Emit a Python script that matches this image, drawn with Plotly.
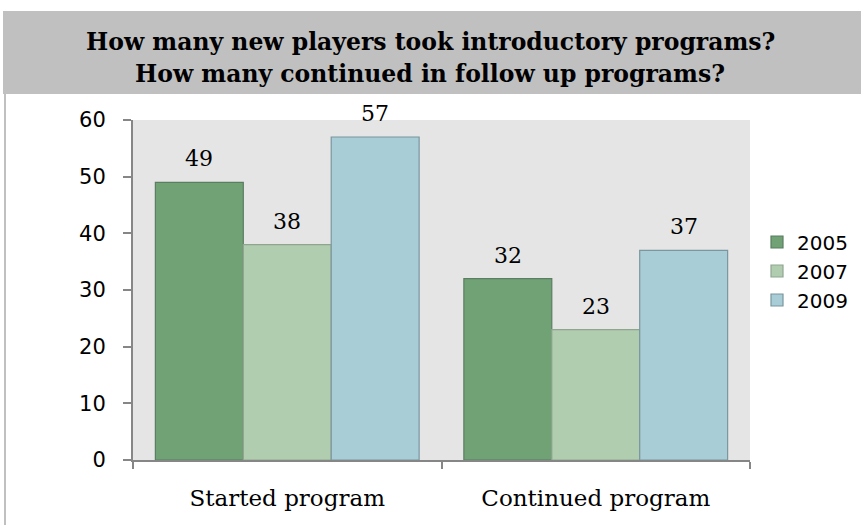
import plotly.graph_objects as go

# Chart data
categories = ["Started program", "Continued program"]
years = ["2005", "2007", "2009"]
values_2005 = [49, 32]
values_2007 = [38, 23]
values_2009 = [57, 37]
series_values = [values_2005, values_2007, values_2009]

title_lines = [
    "How many new players took introductory programs?",
    "How many continued in follow up programs?",
]

fill_colors = ["#70a276", "#b0cdb0", "#a8cdd6"]
edge_colors = ["#5b7d60", "#8fa58f", "#7a969e"]

W, H = 861, 525
M_L, M_R, M_T, M_B = 133, 111, 120, 65
plot_w = W - M_L - M_R
plot_h = H - M_T - M_B

def px_x(px):
    return (px - M_L) / plot_w

def px_y(py):
    return (H - M_B - py) / plot_h

BARGAP = 0.145

fig = go.Figure()
for name, vals, fc, ec in zip(years, series_values, fill_colors, edge_colors):
    fig.add_trace(go.Bar(
        name=name, x=categories, y=vals,
        marker=dict(color=fc, line=dict(color=ec, width=1.2)),
    ))

# value labels above each bar
bar_w = (1 - BARGAP) / len(years)
annotations = []
for k, vals in enumerate(series_values):
    for i, v in enumerate(vals):
        annotations.append(dict(
            x=i + (k - (len(years) - 1) / 2) * bar_w, y=v, xref="x", yref="y",
            text=str(v), showarrow=False, yanchor="bottom", yshift=9,
            font=dict(family="DejaVu Serif", size=22, color="#000000"),
        ))

# two-line title in the grey band
for line, py in zip(title_lines, [42, 74]):
    annotations.append(dict(
        x=px_x(430), y=px_y(py), xref="paper", yref="paper",
        text="<b>" + line + "</b>", showarrow=False,
        xanchor="center", yanchor="middle",
        font=dict(family="DejaVu Serif", size=23.5, color="#000000"),
    ))

shapes = [
    dict(type="rect", xref="paper", yref="paper",
         x0=px_x(3), x1=px_x(W + 2), y0=px_y(94), y1=px_y(11),
         fillcolor="#c0c0c0", line=dict(width=0), layer="below"),
    dict(type="line", xref="paper", yref="paper",
         x0=px_x(5), x1=px_x(5), y0=px_y(94), y1=px_y(H + 2),
         line=dict(color="#c0c0c0", width=2)),
]

fig.update_layout(
    width=W, height=H,
    margin=dict(l=M_L, r=M_R, t=M_T, b=M_B, autoexpand=False),
    barmode="group", bargap=BARGAP, bargroupgap=0,
    paper_bgcolor="#ffffff", plot_bgcolor="#e5e5e5",
    font=dict(family="DejaVu Sans", size=20, color="#000000"),
    annotations=annotations, shapes=shapes,
    legend=dict(
        x=px_x(757), y=px_y(271), xanchor="left", yanchor="middle",
        font=dict(family="DejaVu Sans", size=20, color="#000000"),
        bgcolor="rgba(0,0,0,0)", itemwidth=30,
    ),
    xaxis=dict(
        type="category", showline=True, linecolor="#868686", linewidth=2,
        ticks="outside", tickson="boundaries", ticklen=7, tickcolor="#868686",
        tickwidth=1.5, showgrid=False, zeroline=False,
        tickfont=dict(family="DejaVu Serif", size=23, color="#000000"),
        ticklabelstandoff=16,
    ),
    yaxis=dict(
        range=[0, 60], dtick=10, showline=True, linecolor="#868686", linewidth=2,
        ticks="outside", ticklen=8, tickcolor="#868686", tickwidth=1.5,
        showgrid=False, zeroline=False,
        tickfont=dict(family="DejaVu Sans", size=21, color="#000000"),
        ticklabelstandoff=13,
    ),
)

fig.write_html("out.html")
